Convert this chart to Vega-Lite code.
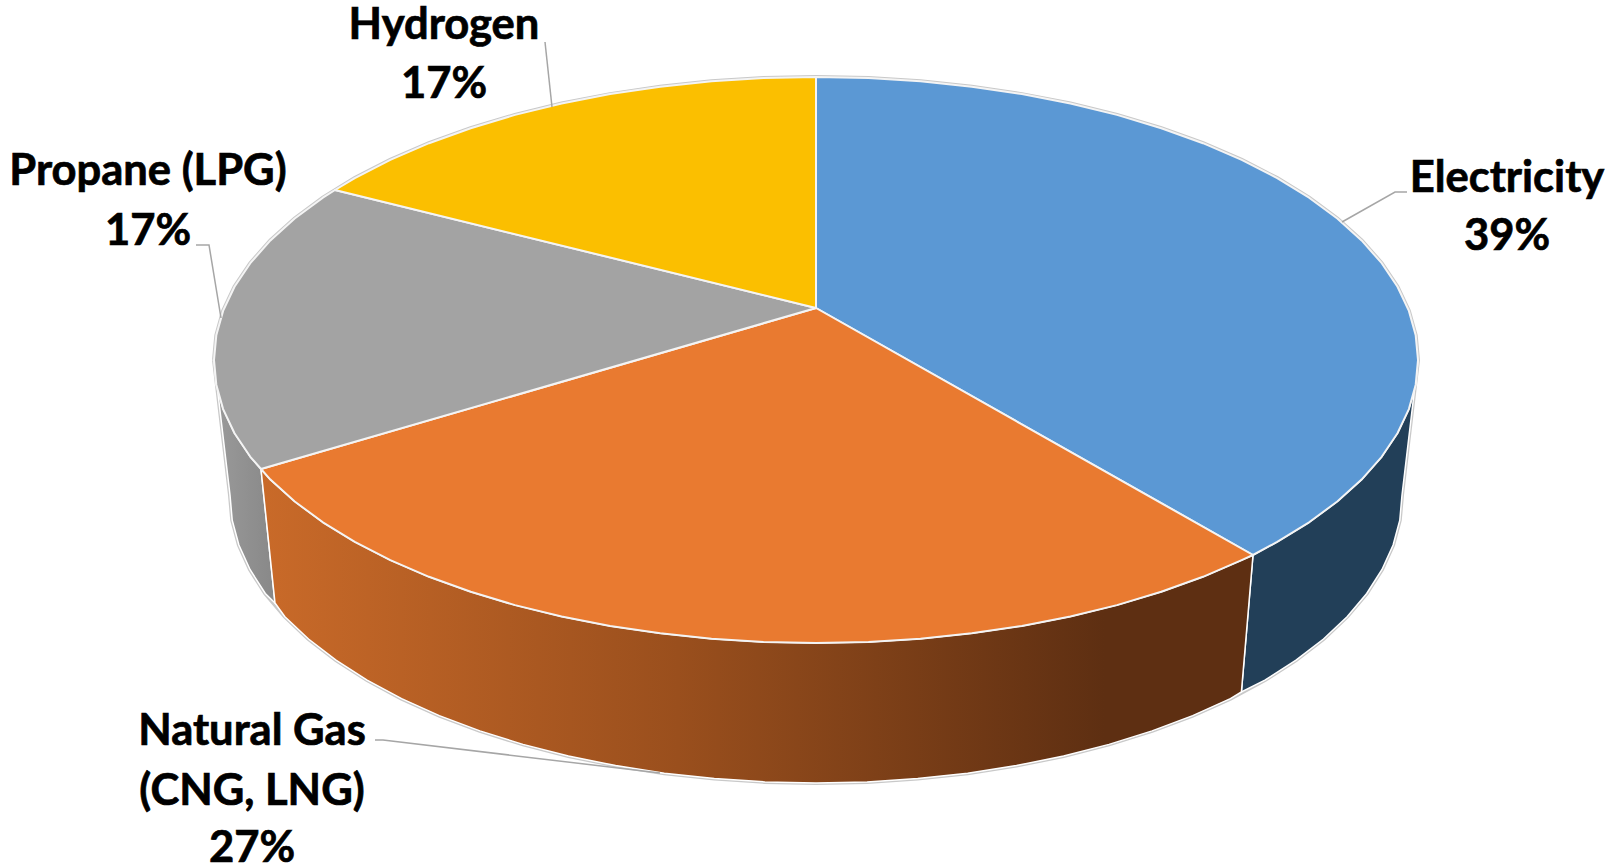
{"$schema":"https://vega.github.io/schema/vega-lite/v6.json","autosize":{"type":"none"},"width":1614,"height":865,"padding":0,"background":"white","config":{"view":{"stroke":null}},
"datasets":{
"silhouette":[{"i":0,"x":214,"y":360},{"i":1,"x":216.3,"y":335.3},{"i":2,"x":223.1,"y":310.9},{"i":3,"x":234.5,"y":286.8},{"i":4,"x":250.3,"y":263.2},{"i":5,"x":270.4,"y":240.4},{"i":6,"x":294.7,"y":218.5},{"i":7,"x":322.9,"y":197.7},{"i":8,"x":354.8,"y":178.1},{"i":9,"x":390.3,"y":159.9},{"i":10,"x":429,"y":143.2},{"i":11,"x":470.7,"y":128.2},{"i":12,"x":515,"y":114.9},{"i":13,"x":561.6,"y":103.5},{"i":14,"x":610.1,"y":94.1},{"i":15,"x":660.2,"y":86.7},{"i":16,"x":711.5,"y":81.3},{"i":17,"x":763.5,"y":78.1},{"i":18,"x":816,"y":77},{"i":19,"x":868.5,"y":78.1},{"i":20,"x":920.5,"y":81.3},{"i":21,"x":971.8,"y":86.7},{"i":22,"x":1021.9,"y":94.1},{"i":23,"x":1070.4,"y":103.5},{"i":24,"x":1117,"y":114.9},{"i":25,"x":1161.3,"y":128.2},{"i":26,"x":1203,"y":143.2},{"i":27,"x":1241.7,"y":159.9},{"i":28,"x":1277.2,"y":178.1},{"i":29,"x":1309.1,"y":197.7},{"i":30,"x":1337.3,"y":218.5},{"i":31,"x":1361.6,"y":240.4},{"i":32,"x":1381.7,"y":263.2},{"i":33,"x":1397.5,"y":286.8},{"i":34,"x":1408.9,"y":310.9},{"i":35,"x":1415.7,"y":335.3},{"i":36,"x":1418,"y":360},{"i":37,"x":1402,"y":495},{"i":38,"x":1399.8,"y":520.1},{"i":39,"x":1393.1,"y":545},{"i":40,"x":1382,"y":569.5},{"i":41,"x":1366.7,"y":593.5},{"i":42,"x":1347.1,"y":616.7},{"i":43,"x":1323.5,"y":639},{"i":44,"x":1296,"y":660.2},{"i":45,"x":1264.9,"y":680.1},{"i":46,"x":1230.4,"y":698.6},{"i":47,"x":1192.7,"y":715.6},{"i":48,"x":1152.1,"y":730.9},{"i":49,"x":1109,"y":744.4},{"i":50,"x":1063.6,"y":756},{"i":51,"x":1016.4,"y":765.6},{"i":52,"x":967.7,"y":773.2},{"i":53,"x":917.7,"y":778.6},{"i":54,"x":867.1,"y":781.9},{"i":55,"x":816,"y":783},{"i":56,"x":764.9,"y":781.9},{"i":57,"x":714.3,"y":778.6},{"i":58,"x":664.3,"y":773.2},{"i":59,"x":615.6,"y":765.6},{"i":60,"x":568.4,"y":756},{"i":61,"x":523,"y":744.4},{"i":62,"x":479.9,"y":730.9},{"i":63,"x":439.3,"y":715.6},{"i":64,"x":401.6,"y":698.6},{"i":65,"x":367.1,"y":680.1},{"i":66,"x":336,"y":660.2},{"i":67,"x":308.5,"y":639},{"i":68,"x":284.9,"y":616.7},{"i":69,"x":265.3,"y":593.5},{"i":70,"x":250,"y":569.5},{"i":71,"x":238.9,"y":545},{"i":72,"x":232.2,"y":520.1},{"i":73,"x":230,"y":495},{"i":74,"x":214,"y":360}],
"sideFaces":[
{"f":"Electricity side","i":0,"x":1418,"y":360},{"f":"Electricity side","i":1,"x":1415.7,"y":384.7},{"f":"Electricity side","i":2,"x":1408.9,"y":409.1},{"f":"Electricity side","i":3,"x":1397.5,"y":433.2},{"f":"Electricity side","i":4,"x":1381.7,"y":456.8},{"f":"Electricity side","i":5,"x":1361.6,"y":479.6},{"f":"Electricity side","i":6,"x":1337.3,"y":501.5},{"f":"Electricity side","i":7,"x":1309.1,"y":522.3},{"f":"Electricity side","i":8,"x":1277.2,"y":541.9},{"f":"Electricity side","i":9,"x":1253,"y":555},{"f":"Electricity side","i":10,"x":1241.4,"y":692},{"f":"Electricity side","i":11,"x":1264.9,"y":680.1},{"f":"Electricity side","i":12,"x":1296,"y":660.2},{"f":"Electricity side","i":13,"x":1323.5,"y":639},{"f":"Electricity side","i":14,"x":1347.1,"y":616.7},{"f":"Electricity side","i":15,"x":1366.7,"y":593.5},{"f":"Electricity side","i":16,"x":1382,"y":569.5},{"f":"Electricity side","i":17,"x":1393.1,"y":545},{"f":"Electricity side","i":18,"x":1399.8,"y":520.1},{"f":"Electricity side","i":19,"x":1402,"y":495},{"f":"Electricity side","i":20,"x":1418,"y":360},
{"f":"Propane side","i":0,"x":261,"y":469},{"f":"Propane side","i":1,"x":250.3,"y":456.8},{"f":"Propane side","i":2,"x":234.5,"y":433.2},{"f":"Propane side","i":3,"x":223.1,"y":409.1},{"f":"Propane side","i":4,"x":216.3,"y":384.7},{"f":"Propane side","i":5,"x":214,"y":360},{"f":"Propane side","i":6,"x":230,"y":495},{"f":"Propane side","i":7,"x":232.2,"y":520.1},{"f":"Propane side","i":8,"x":238.9,"y":545},{"f":"Propane side","i":9,"x":250,"y":569.5},{"f":"Propane side","i":10,"x":265.3,"y":593.5},{"f":"Propane side","i":11,"x":275,"y":603},{"f":"Propane side","i":12,"x":261,"y":469}],
"gasSide":[{"i":0,"x":1253,"y":555},{"i":1,"x":1241.7,"y":560.1},{"i":2,"x":1203,"y":576.8},{"i":3,"x":1161.3,"y":591.8},{"i":4,"x":1117,"y":605.1},{"i":5,"x":1070.4,"y":616.5},{"i":6,"x":1021.9,"y":625.9},{"i":7,"x":971.8,"y":633.3},{"i":8,"x":920.5,"y":638.7},{"i":9,"x":868.5,"y":641.9},{"i":10,"x":816,"y":643},{"i":11,"x":763.5,"y":641.9},{"i":12,"x":711.5,"y":638.7},{"i":13,"x":660.2,"y":633.3},{"i":14,"x":610.1,"y":625.9},{"i":15,"x":561.6,"y":616.5},{"i":16,"x":515,"y":605.1},{"i":17,"x":470.7,"y":591.8},{"i":18,"x":429,"y":576.8},{"i":19,"x":390.3,"y":560.1},{"i":20,"x":354.8,"y":541.9},{"i":21,"x":322.9,"y":522.3},{"i":22,"x":294.7,"y":501.5},{"i":23,"x":270.4,"y":479.6},{"i":24,"x":261,"y":469},{"i":25,"x":275,"y":603},{"i":26,"x":284.9,"y":616.7},{"i":27,"x":308.5,"y":639},{"i":28,"x":336,"y":660.2},{"i":29,"x":367.1,"y":680.1},{"i":30,"x":401.6,"y":698.6},{"i":31,"x":439.3,"y":715.6},{"i":32,"x":479.9,"y":730.9},{"i":33,"x":523,"y":744.4},{"i":34,"x":568.4,"y":756},{"i":35,"x":615.6,"y":765.6},{"i":36,"x":664.3,"y":773.2},{"i":37,"x":714.3,"y":778.6},{"i":38,"x":764.9,"y":781.9},{"i":39,"x":816,"y":783},{"i":40,"x":867.1,"y":781.9},{"i":41,"x":917.7,"y":778.6},{"i":42,"x":967.7,"y":773.2},{"i":43,"x":1016.4,"y":765.6},{"i":44,"x":1063.6,"y":756},{"i":45,"x":1109,"y":744.4},{"i":46,"x":1152.1,"y":730.9},{"i":47,"x":1192.7,"y":715.6},{"i":48,"x":1230.4,"y":698.6},{"i":49,"x":1241.4,"y":692},{"i":50,"x":1253,"y":555}],
"topFaces":[
{"f":"Electricity","i":0,"x":816,"y":308},{"f":"Electricity","i":1,"x":816,"y":77},{"f":"Electricity","i":2,"x":868.5,"y":78.1},{"f":"Electricity","i":3,"x":920.5,"y":81.3},{"f":"Electricity","i":4,"x":971.8,"y":86.7},{"f":"Electricity","i":5,"x":1021.9,"y":94.1},{"f":"Electricity","i":6,"x":1070.4,"y":103.5},{"f":"Electricity","i":7,"x":1117,"y":114.9},{"f":"Electricity","i":8,"x":1161.3,"y":128.2},{"f":"Electricity","i":9,"x":1203,"y":143.2},{"f":"Electricity","i":10,"x":1241.7,"y":159.9},{"f":"Electricity","i":11,"x":1277.2,"y":178.1},{"f":"Electricity","i":12,"x":1309.1,"y":197.7},{"f":"Electricity","i":13,"x":1337.3,"y":218.5},{"f":"Electricity","i":14,"x":1361.6,"y":240.4},{"f":"Electricity","i":15,"x":1381.7,"y":263.2},{"f":"Electricity","i":16,"x":1397.5,"y":286.8},{"f":"Electricity","i":17,"x":1408.9,"y":310.9},{"f":"Electricity","i":18,"x":1415.7,"y":335.3},{"f":"Electricity","i":19,"x":1418,"y":360},{"f":"Electricity","i":20,"x":1415.7,"y":384.7},{"f":"Electricity","i":21,"x":1408.9,"y":409.1},{"f":"Electricity","i":22,"x":1397.5,"y":433.2},{"f":"Electricity","i":23,"x":1381.7,"y":456.8},{"f":"Electricity","i":24,"x":1361.6,"y":479.6},{"f":"Electricity","i":25,"x":1337.3,"y":501.5},{"f":"Electricity","i":26,"x":1309.1,"y":522.3},{"f":"Electricity","i":27,"x":1277.2,"y":541.9},{"f":"Electricity","i":28,"x":1253,"y":555},{"f":"Electricity","i":29,"x":816,"y":308},
{"f":"Natural Gas","i":0,"x":816,"y":308},{"f":"Natural Gas","i":1,"x":1253,"y":555},{"f":"Natural Gas","i":2,"x":1241.7,"y":560.1},{"f":"Natural Gas","i":3,"x":1203,"y":576.8},{"f":"Natural Gas","i":4,"x":1161.3,"y":591.8},{"f":"Natural Gas","i":5,"x":1117,"y":605.1},{"f":"Natural Gas","i":6,"x":1070.4,"y":616.5},{"f":"Natural Gas","i":7,"x":1021.9,"y":625.9},{"f":"Natural Gas","i":8,"x":971.8,"y":633.3},{"f":"Natural Gas","i":9,"x":920.5,"y":638.7},{"f":"Natural Gas","i":10,"x":868.5,"y":641.9},{"f":"Natural Gas","i":11,"x":816,"y":643},{"f":"Natural Gas","i":12,"x":763.5,"y":641.9},{"f":"Natural Gas","i":13,"x":711.5,"y":638.7},{"f":"Natural Gas","i":14,"x":660.2,"y":633.3},{"f":"Natural Gas","i":15,"x":610.1,"y":625.9},{"f":"Natural Gas","i":16,"x":561.6,"y":616.5},{"f":"Natural Gas","i":17,"x":515,"y":605.1},{"f":"Natural Gas","i":18,"x":470.7,"y":591.8},{"f":"Natural Gas","i":19,"x":429,"y":576.8},{"f":"Natural Gas","i":20,"x":390.3,"y":560.1},{"f":"Natural Gas","i":21,"x":354.8,"y":541.9},{"f":"Natural Gas","i":22,"x":322.9,"y":522.3},{"f":"Natural Gas","i":23,"x":294.7,"y":501.5},{"f":"Natural Gas","i":24,"x":270.4,"y":479.6},{"f":"Natural Gas","i":25,"x":261,"y":469},{"f":"Natural Gas","i":26,"x":816,"y":308},
{"f":"Propane","i":0,"x":816,"y":308},{"f":"Propane","i":1,"x":261,"y":469},{"f":"Propane","i":2,"x":250.3,"y":456.8},{"f":"Propane","i":3,"x":234.5,"y":433.2},{"f":"Propane","i":4,"x":223.1,"y":409.1},{"f":"Propane","i":5,"x":216.3,"y":384.7},{"f":"Propane","i":6,"x":214,"y":360},{"f":"Propane","i":7,"x":216.3,"y":335.3},{"f":"Propane","i":8,"x":223.1,"y":310.9},{"f":"Propane","i":9,"x":234.5,"y":286.8},{"f":"Propane","i":10,"x":250.3,"y":263.2},{"f":"Propane","i":11,"x":270.4,"y":240.4},{"f":"Propane","i":12,"x":294.7,"y":218.5},{"f":"Propane","i":13,"x":322.9,"y":197.7},{"f":"Propane","i":14,"x":335,"y":190},{"f":"Propane","i":15,"x":816,"y":308},
{"f":"Hydrogen","i":0,"x":816,"y":308},{"f":"Hydrogen","i":1,"x":335,"y":190},{"f":"Hydrogen","i":2,"x":354.8,"y":178.1},{"f":"Hydrogen","i":3,"x":390.3,"y":159.9},{"f":"Hydrogen","i":4,"x":429,"y":143.2},{"f":"Hydrogen","i":5,"x":470.7,"y":128.2},{"f":"Hydrogen","i":6,"x":515,"y":114.9},{"f":"Hydrogen","i":7,"x":561.6,"y":103.5},{"f":"Hydrogen","i":8,"x":610.1,"y":94.1},{"f":"Hydrogen","i":9,"x":660.2,"y":86.7},{"f":"Hydrogen","i":10,"x":711.5,"y":81.3},{"f":"Hydrogen","i":11,"x":763.5,"y":78.1},{"f":"Hydrogen","i":12,"x":816,"y":77},{"f":"Hydrogen","i":13,"x":816,"y":308}],
"leaders":[
{"k":"Electricity","i":0,"x":1342,"y":222},{"k":"Electricity","i":1,"x":1395,"y":192},{"k":"Electricity","i":2,"x":1407,"y":192},
{"k":"Hydrogen","i":0,"x":552,"y":107},{"k":"Hydrogen","i":1,"x":545,"y":42},
{"k":"Propane","i":0,"x":221,"y":318},{"k":"Propane","i":1,"x":209,"y":245},{"k":"Propane","i":2,"x":196,"y":245},
{"k":"Natural Gas","i":0,"x":660,"y":773},{"k":"Natural Gas","i":1,"x":383,"y":740},{"k":"Natural Gas","i":2,"x":375,"y":740}],
"labels":[
{"t":"Electricity","x":1507,"y":192},{"t":"39%","x":1507,"y":250},
{"t":"Hydrogen","x":444,"y":39},{"t":"17%","x":444,"y":98},
{"t":"Propane (LPG)","x":148,"y":185},{"t":"17%","x":148,"y":245},
{"t":"Natural Gas","x":252,"y":745},{"t":"(CNG, LNG)","x":252,"y":805},{"t":"27%","x":252,"y":862}]
},
"layer":[
{"data":{"name":"silhouette"},"mark":{"type":"line","stroke":"#c9c9c9","strokeWidth":4,"interpolate":"linear"},"encoding":{"x":{"field":"x","type":"quantitative","scale":{"domain":[0,1614],"nice":false,"zero":false},"axis":null},"y":{"field":"y","type":"quantitative","scale":{"domain":[865,0],"nice":false,"zero":false},"axis":null},"order":{"field":"i","type":"quantitative"}}},
{"data":{"name":"sideFaces"},"mark":{"type":"line","fill":"#223f58","stroke":"white","strokeWidth":1.5},"transform":[{"filter":"datum.f === 'Electricity side'"}],"encoding":{"x":{"field":"x","type":"quantitative"},"y":{"field":"y","type":"quantitative"},"order":{"field":"i","type":"quantitative"}}},
{"data":{"name":"sideFaces"},"mark":{"type":"line","fill":{"x1":0,"y1":0,"x2":1,"y2":0,"gradient":"linear","stops":[{"offset":0,"color":"#9a9a9a"},{"offset":1,"color":"#888888"}]},"stroke":"white","strokeWidth":1.5},"transform":[{"filter":"datum.f === 'Propane side'"}],"encoding":{"x":{"field":"x","type":"quantitative"},"y":{"field":"y","type":"quantitative"},"order":{"field":"i","type":"quantitative"}}},
{"data":{"name":"gasSide"},"mark":{"type":"line","fill":{"x1":0,"y1":0,"x2":1,"y2":0,"gradient":"linear","stops":[{"offset":0,"color":"#c96a29"},{"offset":0.42,"color":"#9a4f1d"},{"offset":0.85,"color":"#5e2f12"},{"offset":1,"color":"#5e2f12"}]},"stroke":"white","strokeWidth":1.5},"encoding":{"x":{"field":"x","type":"quantitative"},"y":{"field":"y","type":"quantitative"},"order":{"field":"i","type":"quantitative"}}},
{"data":{"name":"topFaces"},"mark":{"type":"line","stroke":"#f4f4f4","strokeWidth":2,"strokeJoin":"round"},"encoding":{"x":{"field":"x","type":"quantitative"},"y":{"field":"y","type":"quantitative"},"order":{"field":"i","type":"quantitative"},"detail":{"field":"f","type":"nominal"},"fill":{"field":"f","type":"nominal","legend":null,"scale":{"domain":["Electricity","Natural Gas","Propane","Hydrogen"],"range":["#5b98d4","#e97a30","#a3a3a3","#fbbf00"]}}}},
{"data":{"name":"leaders"},"mark":{"type":"line","stroke":"#a6a6a6","strokeWidth":1.5},"encoding":{"x":{"field":"x","type":"quantitative"},"y":{"field":"y","type":"quantitative"},"order":{"field":"i","type":"quantitative"},"detail":{"field":"k","type":"nominal"}}},
{"data":{"name":"labels"},"mark":{"type":"text","font":"Lato","fontWeight":"bold","fontSize":43.5,"align":"center","baseline":"alphabetic","fill":"#000000","stroke":"#000000","strokeWidth":0.7},"encoding":{"x":{"field":"x","type":"quantitative"},"y":{"field":"y","type":"quantitative"},"text":{"field":"t","type":"nominal"}}}
]}
